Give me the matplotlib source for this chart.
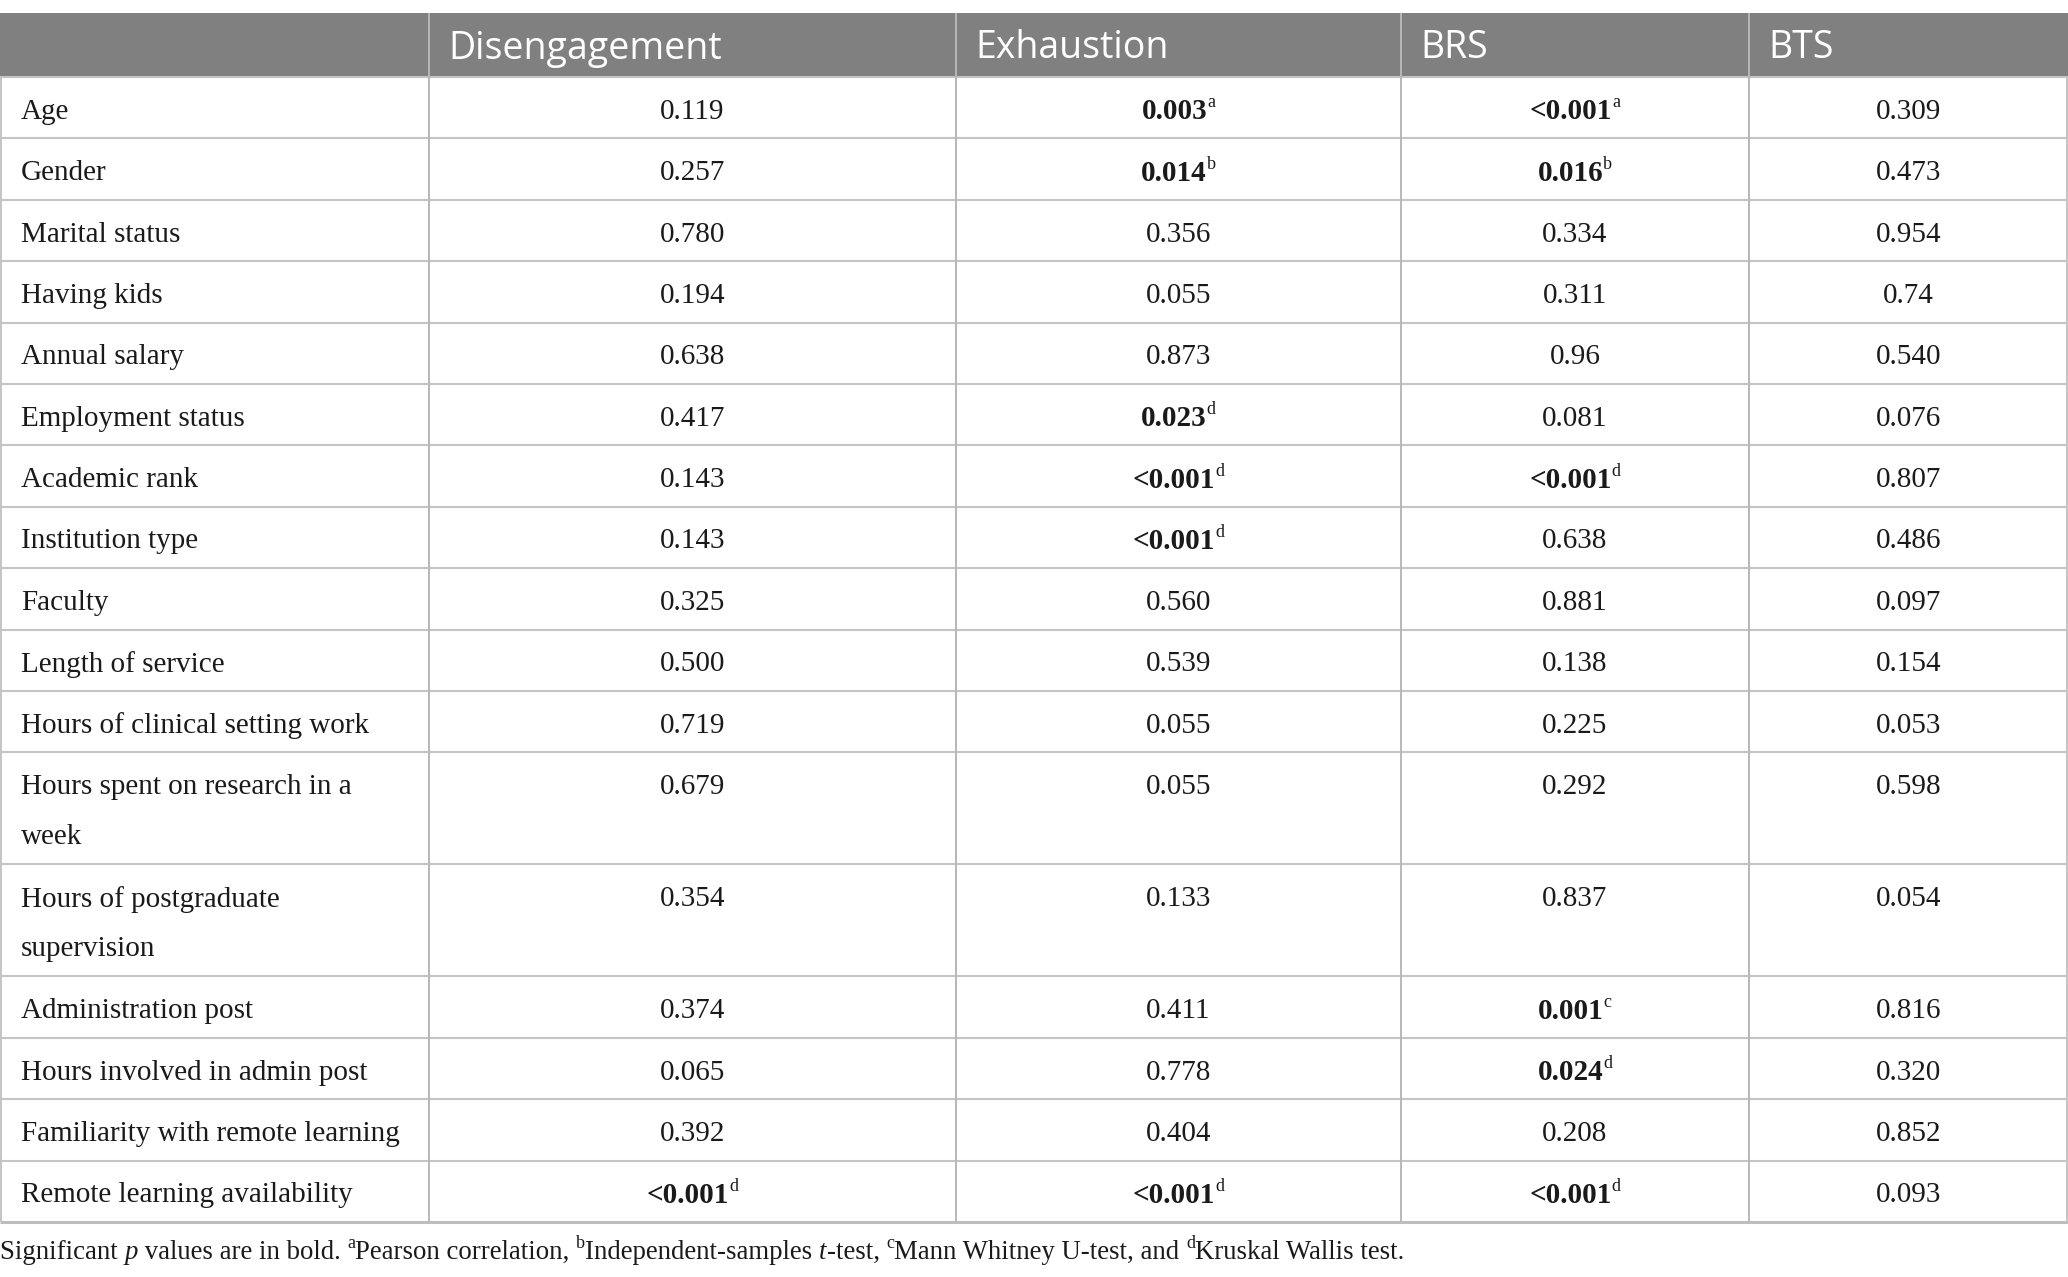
import matplotlib.pyplot as plt

# row labels and p values (superscript = test used, bold when significant)
rows = ["Age", "Gender", "Marital status", "Having kids", "Annual salary",
        "Employment status", "Academic rank", "Institution type", "Faculty",
        "Length of service", "Hours of clinical setting work",
        "Hours spent on research in a\nweek", "Hours of postgraduate\nsupervision",
        "Administration post", "Hours involved in admin post",
        "Familiarity with remote learning", "Remote learning availability"]
columns = ["Disengagement", "Exhaustion", "BRS", "BTS"]

disengagement = ["0.119", "0.257", "0.780", "0.194", "0.638", "0.417", "0.143", "0.143",
                 "0.325", "0.500", "0.719", "0.679", "0.354", "0.374", "0.065", "0.392", "<0.001"]
disengagement_sup = [""] * 16 + ["d"]
exhaustion = ["0.003", "0.014", "0.356", "0.055", "0.873", "0.023", "<0.001", "<0.001",
              "0.560", "0.539", "0.055", "0.055", "0.133", "0.411", "0.778", "0.404", "<0.001"]
exhaustion_sup = ["a", "b", "", "", "", "d", "d", "d", "", "", "", "", "", "", "", "", "d"]
brs = ["<0.001", "0.016", "0.334", "0.311", "0.96", "0.081", "<0.001", "0.638",
       "0.881", "0.138", "0.225", "0.292", "0.837", "0.001", "0.024", "0.208", "<0.001"]
brs_sup = ["a", "b", "", "", "", "", "d", "", "", "", "", "", "", "c", "d", "", "d"]
bts = ["0.309", "0.473", "0.954", "0.74", "0.540", "0.076", "0.807", "0.486",
       "0.097", "0.154", "0.053", "0.598", "0.054", "0.816", "0.320", "0.852", "0.093"]
bts_sup = [""] * 17

values = [disengagement, exhaustion, brs, bts]
sups = [disengagement_sup, exhaustion_sup, brs_sup, bts_sup]

W, H = 2068, 1277
SERIF = "Liberation Serif"
SANS = "Open Sans"
BODY = 21
SUPSZ = 13

fig = plt.figure(figsize=(W / 100, H / 100), dpi=100)
ax = fig.add_axes([0, 0, 1, 1])
ax.set_xlim(0, W)
ax.set_ylim(H, 0)
ax.axis("off")
renderer = fig.canvas.get_renderer()


def width_of(t):
    return t.get_window_extent(renderer).width


def rich(x, y, parts, ha="left", size=BODY):
    # parts: list of (text, weight, style, is_sup)
    objs = []
    for txt, weight, style, sup in parts:
        fs = SUPSZ if sup else size
        t = ax.text(0, y - (9 if sup else 0), txt, fontsize=fs, fontweight=weight,
                    fontstyle=style, family=SERIF, va="center", ha="left", color="#1a1a1a")
        objs.append(t)
    widths = [width_of(t) for t in objs]
    total = sum(widths)
    x0 = x - total / 2 if ha == "center" else x
    for t, w in zip(objs, widths):
        t.set_x(x0)
        x0 += w


col_edges = [0, 429, 956, 1401, 1749, W]
top = 13
header_h = 64
line_h = 61.4
extra_line = 50.6
shift = 4

# header
ax.fill_between([0, W], top, top + header_h, color="#808080", lw=0)
for i, name in enumerate(columns):
    ax.text(col_edges[i + 1] + 19, top + header_h / 2 + 3.5, name, color="white",
            fontsize=27, family=SANS, va="center", ha="left")

# body
y = top + header_h
row_tops = []
for r, label in enumerate(rows):
    nlines = label.count("\n") + 1
    h = line_h + (nlines - 1) * extra_line
    row_tops.append(y)
    yc = y + line_h / 2 + shift
    for k, part in enumerate(label.split("\n")):
        ax.text(21, yc + k * 50, part, fontsize=BODY, family=SERIF, va="center",
                ha="left", color="#1a1a1a")
    for c in range(4):
        v, s = values[c][r], sups[c][r]
        cx = (col_edges[c + 1] + col_edges[c + 2]) / 2
        wgt = "bold" if s else "normal"
        parts = [(v, wgt, "normal", False)]
        if s:
            parts.append((s, "normal", "normal", True))
        rich(cx, yc, parts, ha="center")
    y += h
bottom = y

# grid lines
ax.hlines(row_tops[1:] + [top + header_h], 0, W, color="#c4c4c4", lw=1.5)
ax.hlines([bottom], 0, W, color="#bdbdbd", lw=2.2)
ax.vlines(col_edges[1:-1], top, bottom, color="#b8b8b8", lw=1.4)
ax.vlines([1, W - 1], top + header_h, bottom, color="#c4c4c4", lw=1.4)

# footnote
rich(0, bottom + 30, [
    ("Significant ", "normal", "normal", False),
    ("p", "normal", "italic", False),
    (" values are in bold. ", "normal", "normal", False),
    ("a", "normal", "normal", True),
    ("Pearson correlation, ", "normal", "normal", False),
    ("b", "normal", "normal", True),
    ("Independent-samples ", "normal", "normal", False),
    ("t", "normal", "italic", False),
    ("-test, ", "normal", "normal", False),
    ("c", "normal", "normal", True),
    ("Mann Whitney U-test, and ", "normal", "normal", False),
    ("d", "normal", "normal", True),
    ("Kruskal Wallis test.", "normal", "normal", False),
], size=19.3)

fig.savefig("out.png", dpi=100)
